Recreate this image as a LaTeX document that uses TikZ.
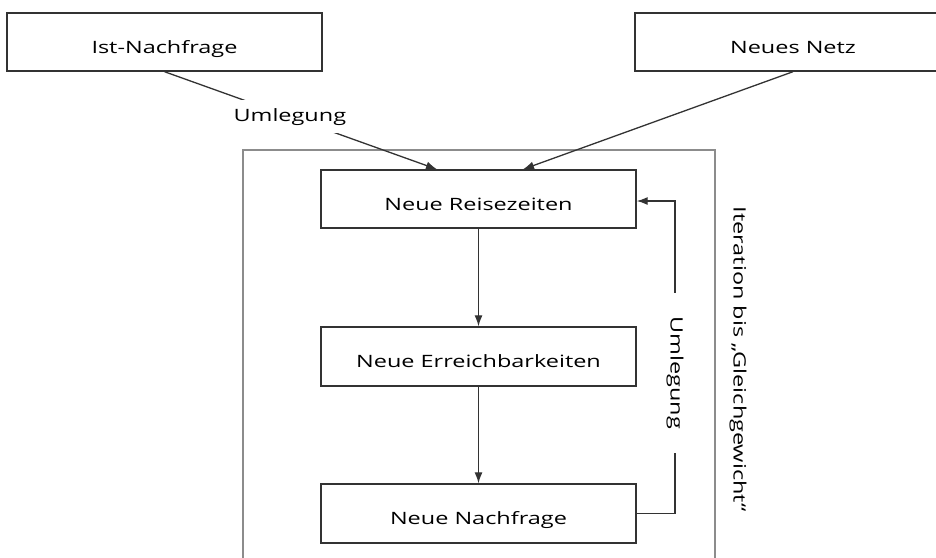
\documentclass[tikz,border=0pt]{standalone}
\usepackage{fontspec}
\setmainfont[FakeStretch=1.38]{Open Sans}
\usepackage{tikz}
\usetikzlibrary{arrows.meta}
\tikzset{box/.style={draw=black!80, line width=1.4pt, rectangle, minimum width=315pt, minimum height=58pt, inner sep=0pt, text height=22pt, text depth=0pt}, gaplabel/.style={fill=white, rectangle, inner sep=8pt}, flow/.style={-{Latex[length=11pt, width=8pt]}, draw=black!80, line width=1.3pt}}

\begin{document}
\begin{tikzpicture}[x=1pt, y=-1pt, font=\fontsize{17}{20}\selectfont]
      \useasboundingbox (0,0) rectangle (936,557);
      \clip (0,0) rectangle (936,557);
      \def\colx{478.5}
      \draw [black!45, line width=1.2pt] (243,150) rectangle (715,590);
      \node [box] (ist) at (164.5,42) {Ist-Nachfrage};
      \node [box, minimum width=316pt] (netz) at (793,42) {Neues Netz};
      \node [box] (reise) at (\colx,199) {Neue Reisezeiten};
      \node [box, minimum height=59pt] (erreich) at (\colx,356.5) {Neue Erreichbarkeiten};
      \node [box, minimum height=59pt] (nachfrage) at (\colx,513.5) {Neue Nachfrage};
      \node [rotate=-90] (iter) at (738,359) {Iteration bis „Gleichgewicht“};
      \coordinate (k1) at (675,513.5);
      \coordinate (k2) at (675,201);
      \draw [flow] (ist.south) -- node [gaplabel, pos=0.46] (umleg) {Umlegung} ([xshift=-41.5pt]reise.north);
      \draw [flow] (netz.south) -- ([xshift=44.5pt]reise.north);
      \draw [flow] (reise) -- (erreich);
      \draw [flow] (erreich) -- (nachfrage);
      \draw [flow] (nachfrage.east) -- (k1) -- node [gaplabel, rotate=-90, inner xsep=24pt, inner ysep=2pt, pos=0.45] (iterumleg) {Umlegung} (k2) -- (reise.east |- k2);
    \end{tikzpicture}
\end{document}
